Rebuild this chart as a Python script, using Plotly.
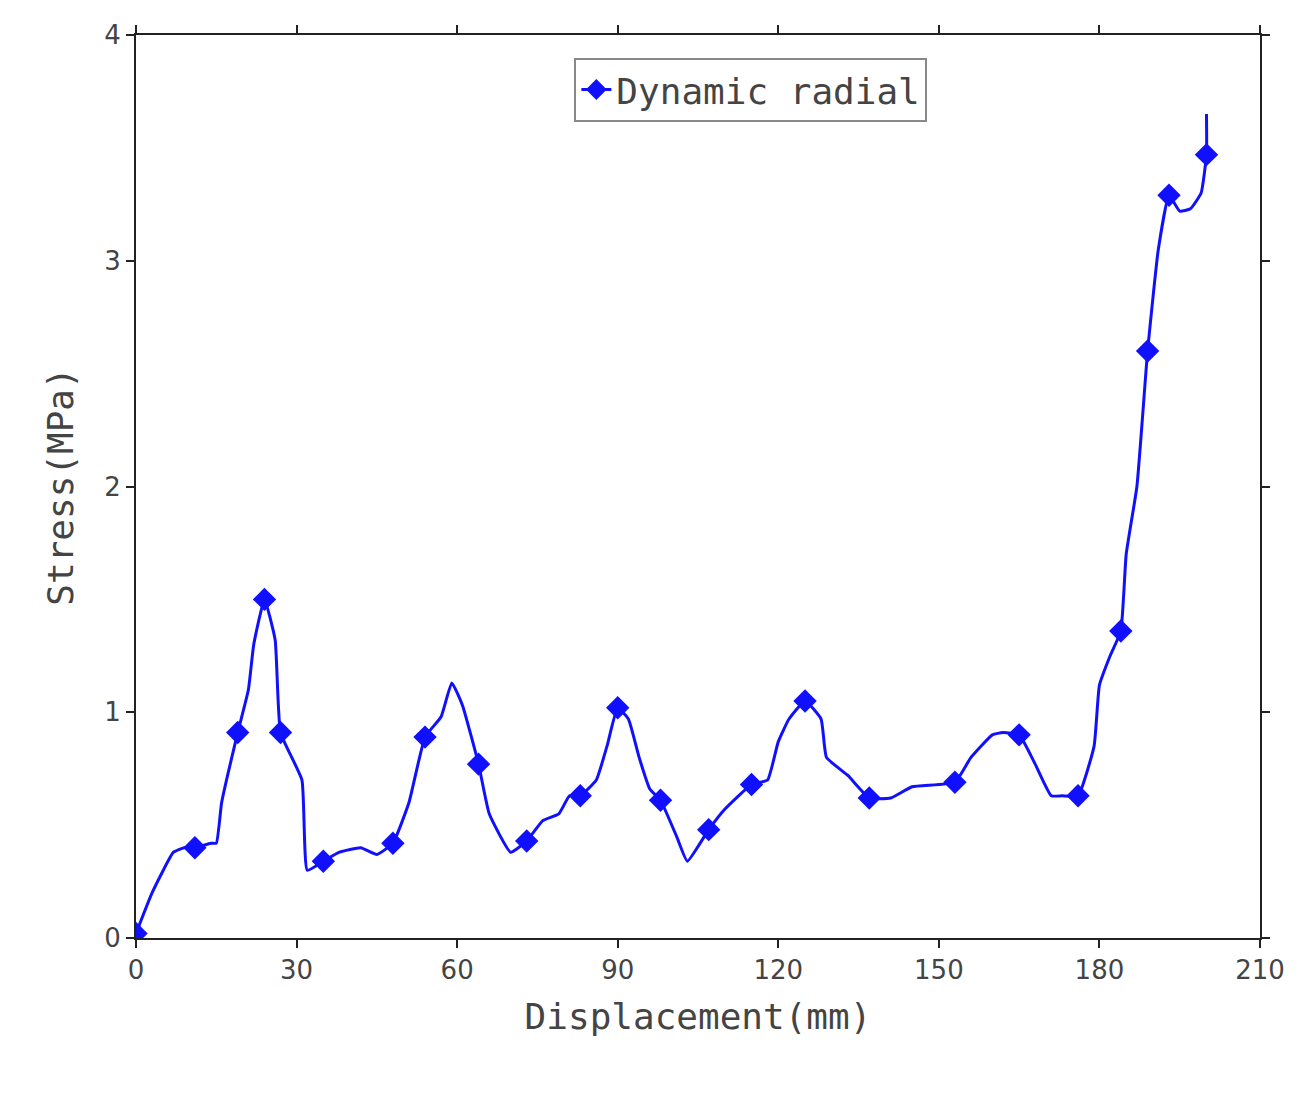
import plotly.graph_objects as go

x = [0,3,7,9,11,14,15,16,19,21,22,24,26,27,31,32,35,38,42,45,48,51,54,57,59,61,64,66,70,73,76,79,81,83,86,88,90,92,94,96,98,101,103,107,110,115,118,120,122,125,128,129,133,137,141,145,153,156,160,162,165,168,171,173,176,179,180,182,184,185,187,189,191,193,195,197,199,200,200]
y = [0.02,0.2,0.38,0.4,0.4,0.42,0.42,0.6,0.91,1.1,1.3,1.5,1.32,0.91,0.7,0.3,0.34,0.38,0.4,0.37,0.42,0.6,0.89,0.98,1.13,1.03,0.77,0.55,0.38,0.43,0.52,0.55,0.63,0.63,0.7,0.85,1.02,0.97,0.8,0.66,0.61,0.45,0.34,0.48,0.57,0.68,0.7,0.87,0.97,1.05,0.97,0.8,0.72,0.62,0.62,0.67,0.69,0.8,0.9,0.91,0.9,0.77,0.63,0.63,0.63,0.85,1.12,1.25,1.36,1.7,2.0,2.6,3.05,3.29,3.22,3.23,3.3,3.47,3.65]
mx = [0,11,19,24,27,35,48,54,64,73,83,90,98,107,115,125,137,153,165,176,184,189,193,200]
my = [0.02,0.4,0.91,1.5,0.91,0.34,0.42,0.89,0.77,0.43,0.63,1.02,0.61,0.48,0.68,1.05,0.62,0.69,0.9,0.63,1.36,2.6,3.29,3.47]

blue = "#1010ff"
fig = go.Figure()
fig.add_trace(go.Scatter(x=x, y=y, mode="lines", line=dict(color=blue, width=3, shape="spline", smoothing=0.4), showlegend=False))
fig.add_trace(go.Scatter(x=mx, y=my, mode="markers", showlegend=False,
    marker=dict(symbol="diamond", size=18, color=blue)))
fig.add_trace(go.Scatter(x=[None], y=[None], mode="lines+markers", name="Dynamic radial",
    line=dict(color=blue, width=3), marker=dict(symbol="diamond", size=18, color=blue)))

font = dict(family="DejaVu Sans Mono", color="#444", size=26)
ax = dict(showline=True, linecolor="#222", linewidth=2, mirror="ticks", ticks="outside",
          ticklen=8, tickwidth=2, tickcolor="#222", showgrid=False, zeroline=False,
          tickfont=dict(family="DejaVu Sans", color="#444", size=26))
fig.update_layout(width=1314, height=1096, plot_bgcolor="white", paper_bgcolor="white",
    margin=dict(l=128, r=62, t=25, b=166), font=font,
    xaxis=dict(ax, range=[0,210], dtick=30, title=dict(text="Displacement(mm)", font=dict(size=36), standoff=20)),
    yaxis=dict(ax, range=[0,4], dtick=1, title=dict(text="Stress(MPa)", font=dict(size=36), standoff=20)),
    legend=dict(x=0.39, y=0.975, xanchor="left", yanchor="top", bordercolor="#888", borderwidth=2,
                font=dict(size=36, color="#444")))
fig.write_html("out.html")
